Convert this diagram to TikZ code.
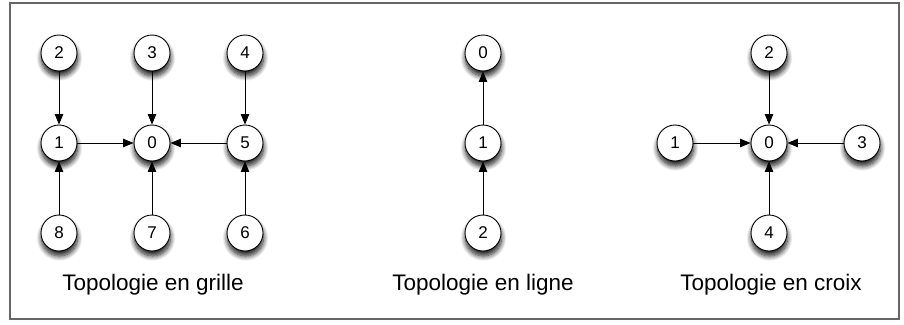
\documentclass[tikz,border=0pt]{standalone}
\usepackage{fontspec}
\setmainfont{Liberation Sans}
\usepackage{tikz}
\usetikzlibrary{positioning,arrows.meta,shadows.blur}

\begin{document}
\begin{tikzpicture}[x=1pt,y=1pt,
	  on grid,
	  node distance=90pt and 93pt,
	  peer/.style={circle, draw, fill=white, line width=0.9pt,
	    minimum size=36pt, inner sep=0pt, font=\fontsize{17}{20}\selectfont,
	    blur shadow={shadow xshift=0.5pt, shadow yshift=-5pt,
	      shadow blur radius=5pt, shadow blur steps=10, shadow opacity=90}},
	  link/.style={-{Triangle[length=10.5pt,width=8.5pt]}, line width=0.8pt},
	  caption/.style={font=\fontsize{22.5}{27}\selectfont}]

	  \useasboundingbox (0,0) rectangle (904,-324);
	  \draw[black!60, line width=1.4pt] (10,-3) rectangle (899,-319);

	  % grille
	  \node[peer] (g0) at (152,-143) {0};
	  \node[peer, left=of g0] (g1) {1};
	  \node[peer, right=of g0] (g5) {5};
	  \node[peer, above=of g0] (g3) {3};
	  \node[peer, below=of g0] (g7) {7};
	  \node[peer, above=of g1] (g2) {2};
	  \node[peer, below=of g1] (g8) {8};
	  \node[peer, above=of g5] (g4) {4};
	  \node[peer, below=of g5] (g6) {6};
	  \draw[link] (g2) -- (g1);
	  \draw[link] (g8) -- (g1);
	  \draw[link] (g3) -- (g0);
	  \draw[link] (g7) -- (g0);
	  \draw[link] (g1) -- (g0);
	  \draw[link] (g5) -- (g0);
	  \draw[link] (g4) -- (g5);
	  \draw[link] (g6) -- (g5);
	  \node[caption] (tg) at (153,-285) {Topologie en grille};

	  % ligne
	  \node[peer] (l1) at (483,-143) {1};
	  \node[peer, above=of l1] (l0) {0};
	  \node[peer, below=of l1] (l2) {2};
	  \draw[link] (l1) -- (l0);
	  \draw[link] (l2) -- (l1);
	  \node[caption] (tl) at (483,-285) {Topologie en ligne};

	  % croix
	  \node[peer] (c0) at (769,-143) {0};
	  \node[peer, left=94pt of c0] (c1) {1};
	  \node[peer, right=of c0] (c3) {3};
	  \node[peer, above=of c0] (c2) {2};
	  \node[peer, below=of c0] (c4) {4};
	  \draw[link] (c1) -- (c0);
	  \draw[link] (c2) -- (c0);
	  \draw[link] (c3) -- (c0);
	  \draw[link] (c4) -- (c0);
	  \node[caption] (tc) at (771,-285) {Topologie en croix};
\end{tikzpicture}
\end{document}
